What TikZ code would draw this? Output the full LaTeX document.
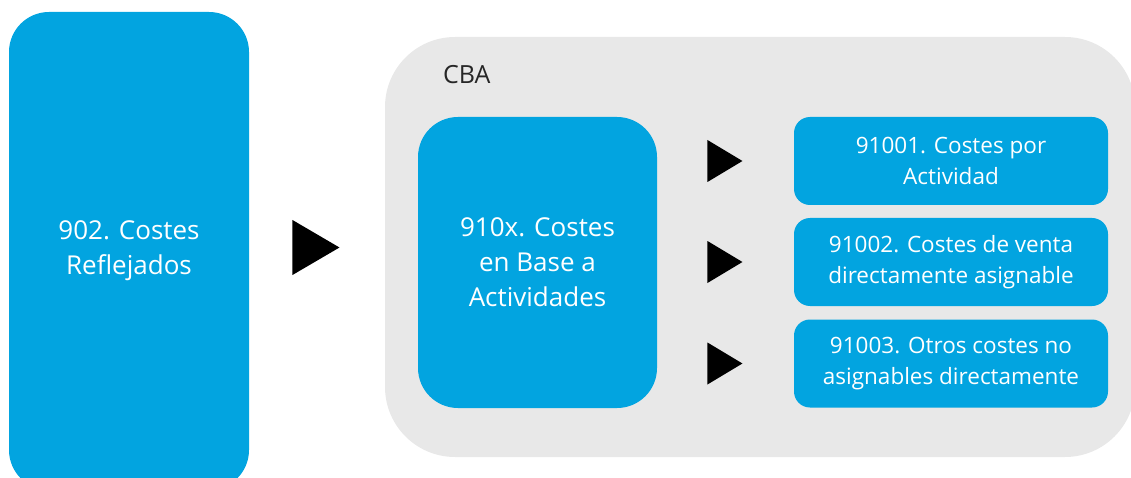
\documentclass[tikz,border=0pt]{standalone}
\usepackage{fontspec}
\setmainfont{Open Sans}
\usetikzlibrary{shapes.geometric}
\definecolor{cbablue}{RGB}{2,164,224}
\definecolor{cbagrey}{RGB}{232,232,232}
\definecolor{cbatext}{RGB}{38,38,38}
\begin{document}
\begin{tikzpicture}[x=1pt,y=1pt,
    box/.style={fill=cbablue,text=white,align=center,inner sep=0pt},
    bigbox/.style={box,rounded corners=40pt,font=\fontsize{26}{35}\selectfont},
    smallbox/.style={box,rounded corners=16pt,minimum width=314pt,minimum height=88pt,font=\fontsize{22.5}{30.5}\selectfont},
    tri/.style={isosceles triangle,isosceles triangle stretches,fill=black,inner sep=0pt,anchor=apex},
    smalltri/.style={tri,minimum width=42pt,minimum height=35pt}]
      \clip (0,0) rectangle (1131,477);
      \path
        (760,230) node[fill=cbagrey,rounded corners=70pt,minimum width=750pt,minimum height=420pt] (cba){}
        (443,402) node[anchor=west,text=cbatext,inner sep=0pt,font=\fontsize{25}{30}\selectfont] (cbalabel){CBA}
        (129,226) node[bigbox,minimum width=240pt,minimum height=478pt] (902){902. Costes\\Reflejados}
        (537.5,214.5) node[bigbox,minimum width=239pt,minimum height=291pt] (910x){910x. Costes\\en Base a\\Actividades}
        (951,316) node[smallbox] (91001){91001. Costes por\\Actividad}
        (951,215) node[smallbox] (91002){91002. Costes de venta\\directamente asignable}
        (951,113.5) node[smallbox] (91003){91003. Otros costes no\\asignables directamente};
      \path
        (340,229.5) node[tri,minimum width=55pt,minimum height=47pt] (t902){}
        (743,316) node[smalltri] (t91001){}
        (743,215) node[smalltri] (t91002){}
        (743,113.5) node[smalltri] (t91003){};
    \end{tikzpicture}
\end{document}
